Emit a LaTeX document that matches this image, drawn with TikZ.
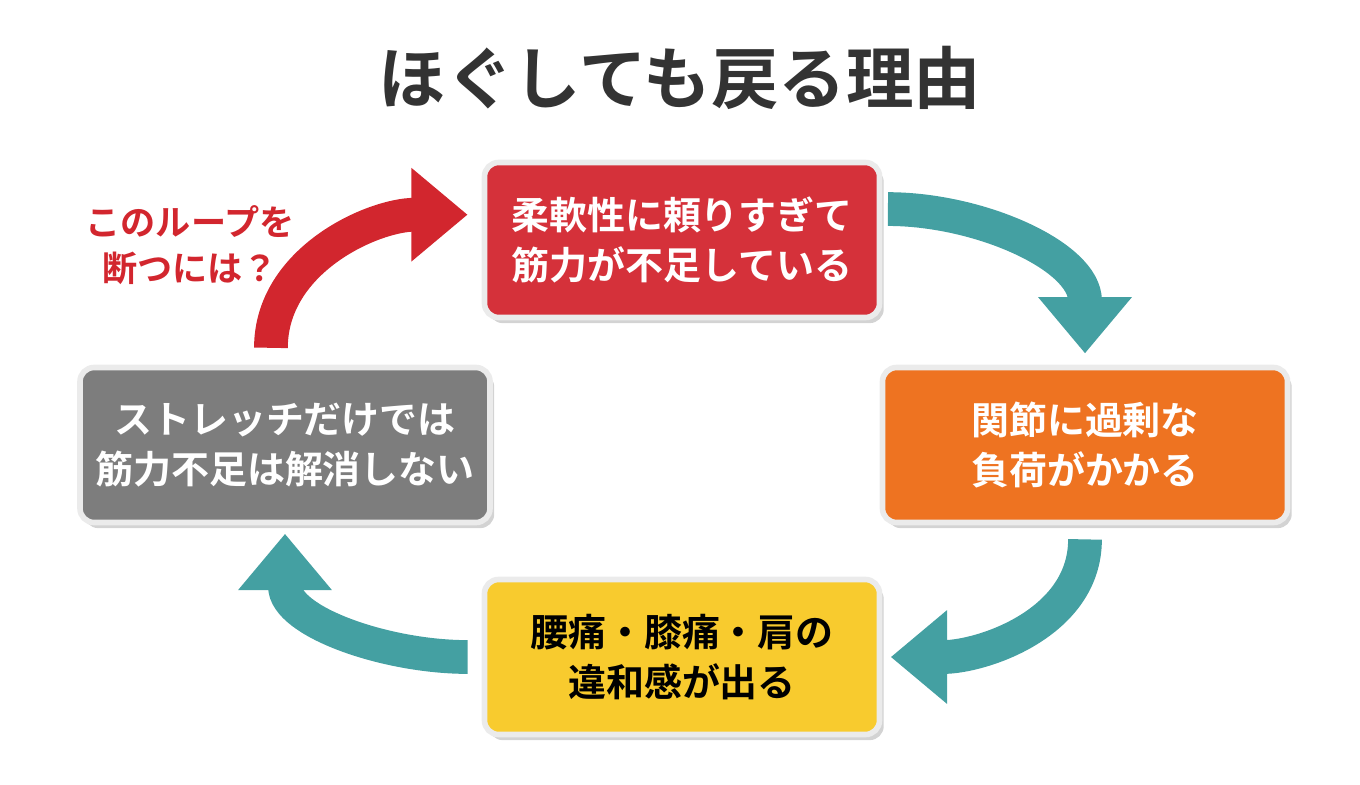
\documentclass[tikz,border=0pt]{standalone}
\usepackage{fontspec}
\setmainfont{Noto Sans CJK JP}[BoldFont={Noto Sans CJK JP Bold}]
\usetikzlibrary{arrows.meta,shadows}
\definecolor{boxred}{HTML}{D5313A}
\definecolor{boxorange}{HTML}{EE7321}
\definecolor{boxyellow}{HTML}{F8CB2E}
\definecolor{boxgray}{HTML}{7D7D7D}
\definecolor{loopteal}{HTML}{44A0A2}
\definecolor{loopred}{HTML}{D2262E}
\definecolor{titlegray}{HTML}{333333}
\tikzset{
  stepbox/.style={draw=black!8,line width=4pt,rounded corners=10pt,minimum width=395\pgfx,
    minimum height=155\pgfx,align=center,font=\bfseries\fontsize{27}{36}\selectfont,
    drop shadow={shadow xshift=3pt,shadow yshift=-4pt,opacity=.35}},
  looparrow/.style={line width=24pt,-{Triangle[length=40pt,width=64pt]},shorten <=4pt}
}
\newlength{\pgfx}\setlength{\pgfx}{0.025cm}
\begin{document}
\begin{tikzpicture}[x=0.025cm,y=-0.025cm]
\useasboundingbox (0,0) rectangle (1360,784);
\node[font=\bfseries\fontsize{48}{56}\selectfont,text=titlegray] (title) at (680,78) {ほぐしても戻る理由};
% boxes
\node[stepbox,fill=boxred,text=white] (flex) at (682,240) {柔軟性に頼りすぎて\\筋力が不足している};
\node[stepbox,fill=boxorange,text=white,minimum width=405\pgfx] (joint) at (1085,445) {関節に過剰な\\負荷がかかる};
\node[stepbox,fill=boxyellow,text=black] (pain) at (682,657) {腰痛・膝痛・肩の\\違和感が出る};
\node[stepbox,fill=boxgray,text=white,minimum width=410\pgfx] (stretch) at (285,445) {ストレッチだけでは\\筋力不足は解消しない};
% loop arrows
\draw[looparrow,loopteal] ([yshift=22pt]flex.east) to[out=0,in=90] ([yshift=8pt]joint.north);
\draw[looparrow,loopteal] ([yshift=-6pt]joint.south) to[out=-90,in=0] ([xshift=6pt]pain.east);
\draw[looparrow,loopteal] ([xshift=-6pt]pain.west) to[out=180,in=-90] ([yshift=-6pt]stretch.south);
\draw[looparrow,loopred] ([yshift=8pt,xshift=-10pt]stretch.north) to[out=90,in=180] ([xshift=-10pt,yshift=18pt]flex.west);
\node[text=loopred,font=\bfseries\fontsize{25}{33}\selectfont,align=center] (ask) at (190,245) {このループを\\断つには？};
\end{tikzpicture}
\end{document}
